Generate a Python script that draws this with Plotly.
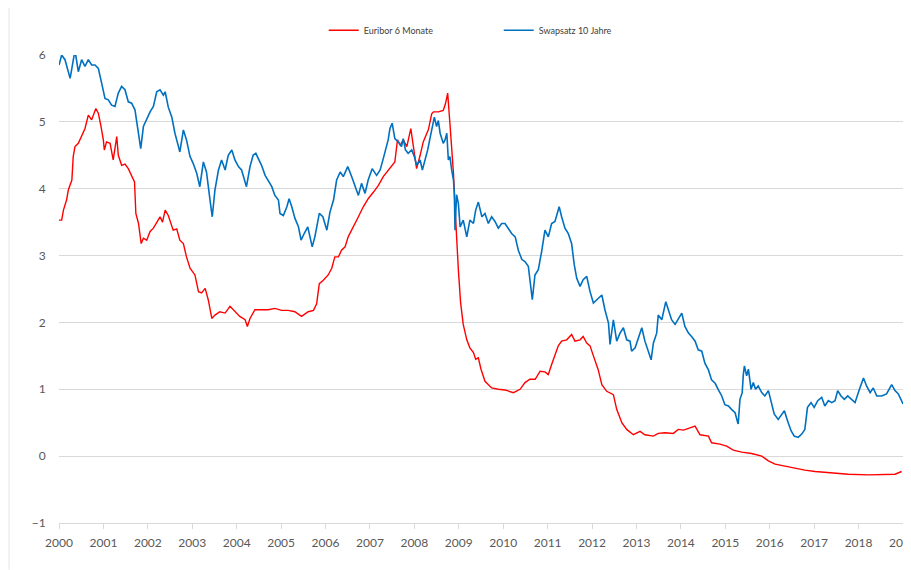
import plotly.graph_objects as go

# Euribor 6 Monate (decimal year, percent)
euribor_t = [2000.00, 2000.06, 2000.10, 2000.17, 2000.21, 2000.29, 2000.32, 2000.36, 2000.435, 2000.51,
             2000.585, 2000.66, 2000.735, 2000.83, 2000.885, 2000.94, 2000.998, 2001.02, 2001.07, 2001.15,
             2001.22, 2001.30, 2001.335, 2001.41, 2001.485, 2001.56, 2001.635, 2001.70, 2001.73, 2001.79,
             2001.85, 2001.90, 2001.975, 2002.05, 2002.125, 2002.20, 2002.275, 2002.33, 2002.39, 2002.46,
             2002.50, 2002.57, 2002.65, 2002.72, 2002.80, 2002.87, 2002.95, 2003.06, 2003.14, 2003.21,
             2003.29, 2003.36, 2003.44, 2003.51, 2003.62, 2003.74, 2003.85, 2003.96, 2004.07, 2004.19,
             2004.24, 2004.30, 2004.41, 2004.56, 2004.71, 2004.86, 2005.01, 2005.16, 2005.31, 2005.46,
             2005.61, 2005.73, 2005.80, 2005.86, 2005.95, 2006.06, 2006.14, 2006.21, 2006.29, 2006.36,
             2006.44, 2006.51, 2006.63, 2006.74, 2006.85, 2006.96, 2007.08, 2007.19, 2007.30, 2007.45,
             2007.56, 2007.62, 2007.68, 2007.75, 2007.83, 2007.92, 2007.98, 2008.05, 2008.13, 2008.20,
             2008.28, 2008.315, 2008.39, 2008.43, 2008.54, 2008.65, 2008.70, 2008.75, 2008.80, 2008.84,
             2008.88, 2008.915, 2008.95, 2008.99, 2009.04, 2009.10, 2009.18, 2009.25, 2009.33, 2009.38,
             2009.44, 2009.50, 2009.59, 2009.74, 2009.89, 2010.04, 2010.23, 2010.38, 2010.49, 2010.60,
             2010.72, 2010.83, 2010.94, 2011.015, 2011.09, 2011.165, 2011.24, 2011.315, 2011.43, 2011.54,
             2011.615, 2011.73, 2011.80, 2011.88, 2011.955, 2012.03, 2012.105, 2012.14, 2012.22, 2012.33,
             2012.48, 2012.555, 2012.67, 2012.78, 2012.93, 2013.08, 2013.19, 2013.38, 2013.49, 2013.64,
             2013.83, 2013.94, 2014.06, 2014.17, 2014.32, 2014.43, 2014.62, 2014.69, 2014.88, 2015.03,
             2015.18, 2015.37, 2015.59, 2015.82, 2015.97, 2016.12, 2016.34, 2016.57, 2016.79, 2017.02,
             2017.32, 2017.47, 2017.77, 2018.22, 2018.60, 2018.82, 2018.97]
euribor_v = [3.53, 3.53, 3.68, 3.83, 3.98, 4.13, 4.48, 4.63, 4.68, 4.78,
             4.90, 5.10, 5.03, 5.20, 5.13, 4.95, 4.73, 4.58, 4.70, 4.68,
             4.43, 4.78, 4.50, 4.35, 4.37, 4.30, 4.18, 4.10, 3.63, 3.48,
             3.18, 3.26, 3.23, 3.36, 3.41, 3.50, 3.58, 3.50, 3.68, 3.60,
             3.53, 3.38, 3.40, 3.23, 3.18, 2.98, 2.81, 2.71, 2.46, 2.44,
             2.51, 2.34, 2.06, 2.11, 2.16, 2.14, 2.24, 2.16, 2.09, 2.04,
             1.94, 2.06, 2.19, 2.19, 2.19, 2.21, 2.18, 2.18, 2.16, 2.09,
             2.16, 2.18, 2.28, 2.58, 2.63, 2.71, 2.81, 2.98, 2.98, 3.08,
             3.13, 3.28, 3.43, 3.58, 3.73, 3.85, 3.95, 4.05, 4.18, 4.30,
             4.40, 4.73, 4.65, 4.73, 4.63, 4.90, 4.63, 4.30, 4.50, 4.70,
             4.83, 4.88, 5.12, 5.15, 5.15, 5.17, 5.27, 5.43, 4.98, 4.63,
             4.23, 3.73, 3.18, 2.79, 2.30, 1.97, 1.74, 1.62, 1.55, 1.45,
             1.47, 1.30, 1.12, 1.02, 1.00, 0.99, 0.95, 1.00, 1.10, 1.15,
             1.15, 1.27, 1.26, 1.22, 1.37, 1.50, 1.65, 1.72, 1.74, 1.82,
             1.72, 1.74, 1.79, 1.69, 1.65, 1.50, 1.35, 1.29, 1.07, 0.97,
             0.92, 0.70, 0.50, 0.40, 0.32, 0.37, 0.32, 0.30, 0.34, 0.35,
             0.34, 0.40, 0.39, 0.42, 0.45, 0.32, 0.30, 0.20, 0.18, 0.15,
             0.09, 0.06, 0.04, 0.00, -0.07, -0.12, -0.15, -0.18, -0.21, -0.23,
             -0.25, -0.26, -0.27, -0.28, -0.27, -0.27, -0.23]

# Swapsatz 10 Jahre (decimal year, percent)
swap_t = [2000.00, 2000.06, 2000.135, 2000.25, 2000.36, 2000.435, 2000.51, 2000.585, 2000.66, 2000.735,
          2000.81, 2000.885, 2000.96, 2001.035, 2001.11, 2001.185, 2001.26, 2001.335, 2001.41, 2001.485,
          2001.56, 2001.635, 2001.71, 2001.75, 2001.84, 2001.90, 2001.975, 2002.05, 2002.125, 2002.20,
          2002.275, 2002.35, 2002.39, 2002.46, 2002.54, 2002.61, 2002.69, 2002.72, 2002.80, 2002.87,
          2002.95, 2003.02, 2003.10, 2003.17, 2003.25, 2003.32, 2003.40, 2003.45, 2003.51, 2003.59,
          2003.66, 2003.74, 2003.81, 2003.89, 2003.96, 2004.04, 2004.11, 2004.22, 2004.30, 2004.37,
          2004.43, 2004.49, 2004.56, 2004.64, 2004.71, 2004.79, 2004.86, 2004.94, 2004.975, 2005.05,
          2005.13, 2005.18, 2005.24, 2005.31, 2005.39, 2005.45, 2005.52, 2005.60, 2005.65, 2005.70,
          2005.76, 2005.86, 2005.94, 2006.03, 2006.10, 2006.18, 2006.25, 2006.33, 2006.40, 2006.50,
          2006.59, 2006.66, 2006.74, 2006.81, 2006.89, 2006.96, 2007.05, 2007.15, 2007.23, 2007.30,
          2007.41, 2007.45, 2007.50, 2007.56, 2007.64, 2007.71, 2007.75, 2007.80, 2007.86, 2007.94,
          2008.00, 2008.05, 2008.13, 2008.18, 2008.24, 2008.30, 2008.35, 2008.39, 2008.45, 2008.50,
          2008.54, 2008.58, 2008.65, 2008.69, 2008.73, 2008.765, 2008.80, 2008.84, 2008.88, 2008.90,
          2008.915, 2008.95, 2008.99, 2009.03, 2009.10, 2009.18, 2009.25, 2009.33, 2009.38, 2009.44,
          2009.52, 2009.59, 2009.665, 2009.74, 2009.815, 2009.89, 2009.965, 2010.04, 2010.115, 2010.19,
          2010.27, 2010.34, 2010.42, 2010.49, 2010.565, 2010.60, 2010.655, 2010.715, 2010.79, 2010.865,
          2010.94, 2011.015, 2011.09, 2011.165, 2011.26, 2011.315, 2011.39, 2011.465, 2011.54, 2011.60,
          2011.655, 2011.73, 2011.80, 2011.88, 2011.955, 2012.03, 2012.105, 2012.22, 2012.29, 2012.37,
          2012.405, 2012.48, 2012.555, 2012.63, 2012.705, 2012.78, 2012.855, 2012.89, 2012.97, 2013.04,
          2013.12, 2013.19, 2013.27, 2013.33, 2013.38, 2013.455, 2013.49, 2013.57, 2013.66, 2013.72,
          2013.79, 2013.87, 2013.94, 2014.02, 2014.09, 2014.17, 2014.24, 2014.32, 2014.39, 2014.47,
          2014.54, 2014.62, 2014.69, 2014.77, 2014.845, 2014.92, 2014.99, 2015.07, 2015.14, 2015.22,
          2015.28, 2015.29, 2015.33, 2015.38, 2015.405, 2015.43, 2015.48, 2015.52, 2015.58, 2015.63,
          2015.68, 2015.74, 2015.82, 2015.89, 2015.97, 2016.04, 2016.10, 2016.19, 2016.27, 2016.33,
          2016.40, 2016.48, 2016.55, 2016.64, 2016.72, 2016.79, 2016.85, 2016.93, 2017.00, 2017.08,
          2017.17, 2017.24, 2017.32, 2017.395, 2017.47, 2017.53, 2017.605, 2017.68, 2017.755, 2017.83,
          2017.92, 2018.01, 2018.11, 2018.18, 2018.26, 2018.33, 2018.41, 2018.52, 2018.63, 2018.745,
          2018.82, 2018.895, 2018.97, 2019.00]
swap_v = [5.85, 6.00, 5.93, 5.65, 6.07, 5.75, 5.93, 5.83, 5.93, 5.85,
          5.85, 5.80, 5.58, 5.35, 5.33, 5.25, 5.23, 5.43, 5.53, 5.48,
          5.30, 5.28, 5.18, 5.00, 4.60, 4.93, 5.05, 5.15, 5.23, 5.45,
          5.48, 5.40, 5.45, 5.22, 5.07, 4.83, 4.63, 4.55, 4.88, 4.73,
          4.48, 4.38, 4.23, 4.03, 4.40, 4.25, 3.83, 3.58, 3.98, 4.28,
          4.43, 4.28, 4.50, 4.58, 4.43, 4.33, 4.28, 4.03, 4.33, 4.50,
          4.53, 4.45, 4.35, 4.20, 4.13, 4.03, 3.90, 3.83, 3.63, 3.60,
          3.73, 3.85, 3.73, 3.56, 3.43, 3.23, 3.33, 3.43, 3.28, 3.13,
          3.28, 3.63, 3.58, 3.38, 3.65, 3.83, 4.13, 4.25, 4.18, 4.33,
          4.18, 4.05, 3.90, 4.08, 3.93, 4.13, 4.30, 4.20, 4.28, 4.45,
          4.73, 4.90, 4.98, 4.75, 4.70, 4.63, 4.75, 4.58, 4.53, 4.58,
          4.48, 4.35, 4.43, 4.28, 4.43, 4.58, 4.75, 4.88, 5.07, 4.93,
          5.02, 4.83, 4.68, 4.73, 4.83, 4.43, 4.48, 4.28, 4.13, 3.93,
          3.38, 3.91, 3.78, 3.43, 3.53, 3.28, 3.53, 3.48, 3.68, 3.80,
          3.58, 3.63, 3.48, 3.58, 3.51, 3.41, 3.48, 3.48, 3.41, 3.33,
          3.28, 3.08, 2.94, 2.91, 2.84, 2.61, 2.34, 2.71, 2.79, 3.06,
          3.38, 3.28, 3.48, 3.51, 3.73, 3.58, 3.41, 3.33, 3.18, 2.86,
          2.66, 2.54, 2.64, 2.69, 2.46, 2.29, 2.34, 2.41, 2.19, 1.99,
          1.67, 2.04, 1.72, 1.84, 1.92, 1.74, 1.72, 1.57, 1.62, 1.77,
          1.92, 1.72, 1.57, 1.44, 1.69, 1.84, 2.11, 2.04, 2.31, 2.19,
          2.04, 1.97, 2.06, 2.14, 1.94, 1.84, 1.79, 1.72, 1.59, 1.57,
          1.39, 1.29, 1.14, 1.09, 0.99, 0.90, 0.77, 0.75, 0.70, 0.65,
          0.50, 0.48, 0.85, 0.95, 1.22, 1.35, 1.20, 1.30, 1.00, 1.10,
          1.00, 1.05, 0.95, 0.90, 0.98, 0.80, 0.63, 0.55, 0.63, 0.68,
          0.53, 0.38, 0.30, 0.28, 0.33, 0.40, 0.73, 0.80, 0.73, 0.83,
          0.88, 0.75, 0.83, 0.80, 0.83, 0.98, 0.90, 0.85, 0.90, 0.85,
          0.80, 0.98, 1.17, 1.05, 0.95, 1.02, 0.90, 0.90, 0.93, 1.07,
          0.98, 0.93, 0.83, 0.78]

year_ticks = list(range(2000, 2020))
year_labels = [str(y) for y in year_ticks]
y_ticks = [-1, 0, 1, 2, 3, 4, 5, 6]

FONT = "Lato, Calibri, Carlito, 'Open Sans', sans-serif"

fig = go.Figure()
fig.add_trace(go.Scatter(x=euribor_t, y=euribor_v, mode="lines", name="Euribor 6 Monate",
                         line=dict(color="#FF0000", width=1.4)))
fig.add_trace(go.Scatter(x=swap_t, y=swap_v, mode="lines", name="Swapsatz 10 Jahre",
                         line=dict(color="#0070C0", width=1.6)))

# the browser page adds an 8px body margin, so the figure is sized 8px smaller
fig.update_layout(
    width=903, height=562,
    margin=dict(l=51, r=8, t=47, b=47, autoexpand=False),
    paper_bgcolor="white", plot_bgcolor="white",
    font=dict(family=FONT, size=12, color="#595959"),
    showlegend=True,
    legend=dict(orientation="h", x=0.521, xanchor="center", y=1.053, yanchor="middle",
                font=dict(family=FONT, size=9, color="#404040"),
                entrywidth=130, itemwidth=30, bgcolor="rgba(0,0,0,0)"),
    xaxis=dict(range=[2000, 2019], tickvals=year_ticks, ticktext=year_labels,
               showgrid=False, zeroline=False, showline=True, linecolor="#d9d9d9", linewidth=1,
               ticks="outside", ticklen=5, tickcolor="#d9d9d9", ticklabelstandoff=4,
               ticklabeloverflow="allow",
               tickfont=dict(family=FONT, size=12, color="#595959")),
    yaxis=dict(range=[-1, 6], tickvals=y_ticks, showgrid=True, gridcolor="#d9d9d9", gridwidth=1,
               zeroline=False, showline=False, ticks="outside", ticklen=10,
               tickcolor="rgba(0,0,0,0)",
               tickfont=dict(family=FONT, size=12, color="#595959")),
    shapes=[dict(type="line", xref="paper", yref="paper", x0=-0.0592, x1=-0.0592,
                 y0=-0.1, y1=1.2, line=dict(color="#e6e6e6", width=1))],
)

fig.write_html("out.html")
